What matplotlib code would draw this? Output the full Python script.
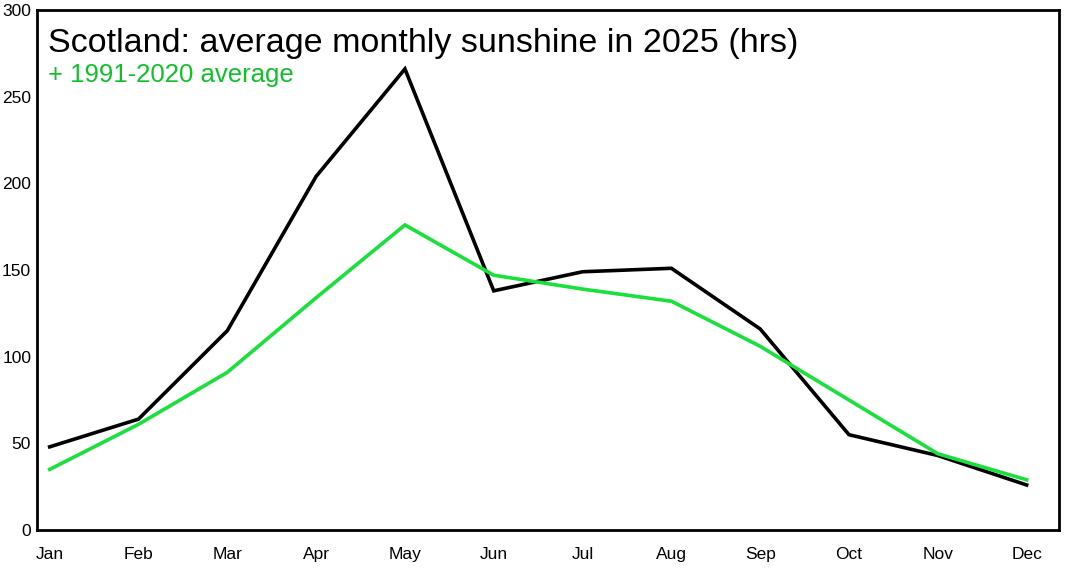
import numpy as np
import matplotlib.pyplot as plt

plt.rcParams['font.family'] = ['Liberation Sans', 'DejaVu Sans']

# monthly sunshine hours
months = ['Jan', 'Feb', 'Mar', 'Apr', 'May', 'Jun', 'Jul', 'Aug', 'Sep', 'Oct', 'Nov', 'Dec']
sun_2025 = [48, 64, 115, 204, 266, 138, 149, 151, 116, 55, 43, 26]
sun_avg = [35, 61, 91, 134, 176, 147, 139, 132, 106, 75, 44, 29]
yticks = [0, 50, 100, 150, 200, 250, 300]

fig = plt.figure(figsize=(10.8, 5.87), dpi=100)
ax = fig.add_axes([0.034, 0.097, 0.947, 0.886])

x = np.arange(len(months))
ax.plot(x, sun_2025, color='black', lw=2.6, solid_joinstyle='miter')
ax.plot(x, sun_avg, color='#19e03a', lw=2.6, solid_joinstyle='miter')

ax.set_xlim(-0.146, 11.37)
ax.set_ylim(0, 300)
ax.set_xticks(x)
ax.set_xticklabels(months)
ax.set_yticks(yticks)
ax.tick_params(length=0, labelsize=12.5)
ax.tick_params(axis='x', pad=12)
ax.tick_params(axis='y', pad=4)
for s in ax.spines.values():
    s.set_linewidth(2)

ax.text(0.011, 0.966, 'Scotland: average monthly sunshine in 2025 (hrs)', transform=ax.transAxes,
        fontsize=24.5, va='top', ha='left', color='black')
ax.text(0.011, 0.899, '+ 1991-2020 average', transform=ax.transAxes,
        fontsize=18.5, va='top', ha='left', color='#10c02a')

fig.savefig('out.png', dpi=100)
